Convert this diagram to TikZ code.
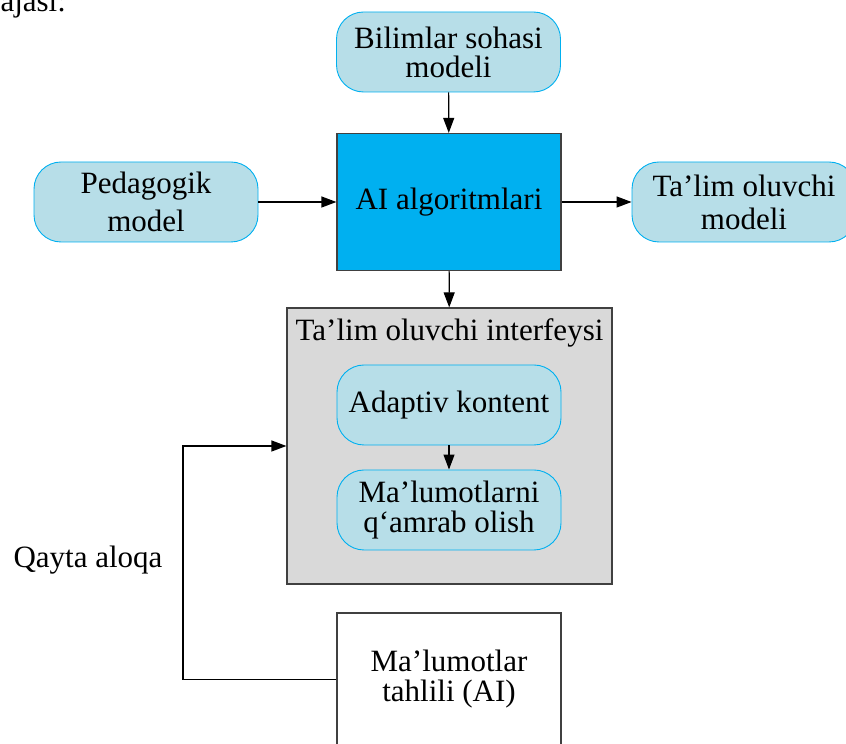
\documentclass[tikz,border=0pt]{standalone}
\usepackage{fontspec}
\setmainfont{Liberation Serif}
\usepackage{tikz}
\usetikzlibrary{arrows.meta,positioning}
\definecolor{paleblue}{HTML}{B7DEE8}
\definecolor{skyblue}{HTML}{00B0F0}
\definecolor{panelgray}{HTML}{D9D9D9}
\definecolor{edgegray}{HTML}{404040}

\begin{document}
\begin{tikzpicture}[x=1pt,y=1pt,
    font=\fontsize{31}{29}\selectfont,
    roundbox/.style={draw=skyblue,line width=0.9pt,fill=paleblue,rounded corners=27pt,
      minimum width=224pt,minimum height=80pt,align=center,inner sep=0pt},
    plainbox/.style={draw=edgegray,line width=1.2pt,minimum width=224pt,align=center,inner sep=0pt},
    arr/.style={-{Triangle[length=15pt,width=11pt]},line width=1.2pt,black}]
        \clip (0,0) rectangle (846,744);
        \node[anchor=base west] (capt) at (-3,732) {ajasi:};
        \node[roundbox] (bilim) at (448.5,692) {Bilimlar sohasi\\modeli};
        \node[plainbox,fill=skyblue,minimum height=137pt] (ai) at (449,542) {AI algoritmlari};
        \node[roundbox] (ped) at (146,542) {Pedagogik\\[9pt]model};
        \node[roundbox] (tmodel) at (744,542) {Ta’lim oluvchi\\[4pt]modeli};
        \node[plainbox,fill=panelgray,minimum width=325pt,minimum height=276pt] (interf) at (449.5,298) {};
        \node (interftitle) at (449.5,411) {Ta’lim oluvchi interfeysi};
        \node[roundbox] (adapt) at (449,339) {Adaptiv kontent};
        \node[roundbox] (malum) at (449,234) {Ma’lumotlarni\\[1pt]q‘amrab olish};
        \node[plainbox,fill=white,minimum height=133pt] (tahlil) at (449,64.5) {Ma’lumotlar\\[1pt]tahlili (AI)};
        \node (qayta) at (88,184) {Qayta aloqa};
        \coordinate (fb) at (183,64.5);
        \draw[arr] (bilim) -- (ai);
        \draw[arr] (ped) -- (ai);
        \draw[arr] (ai) -- (tmodel);
        \draw[arr] (ai) -- (interf);
        \draw[arr] (adapt) -- (malum);
        \draw[arr] (tahlil.west) -- (fb) |- (interf.west);
      \end{tikzpicture}
\end{document}
